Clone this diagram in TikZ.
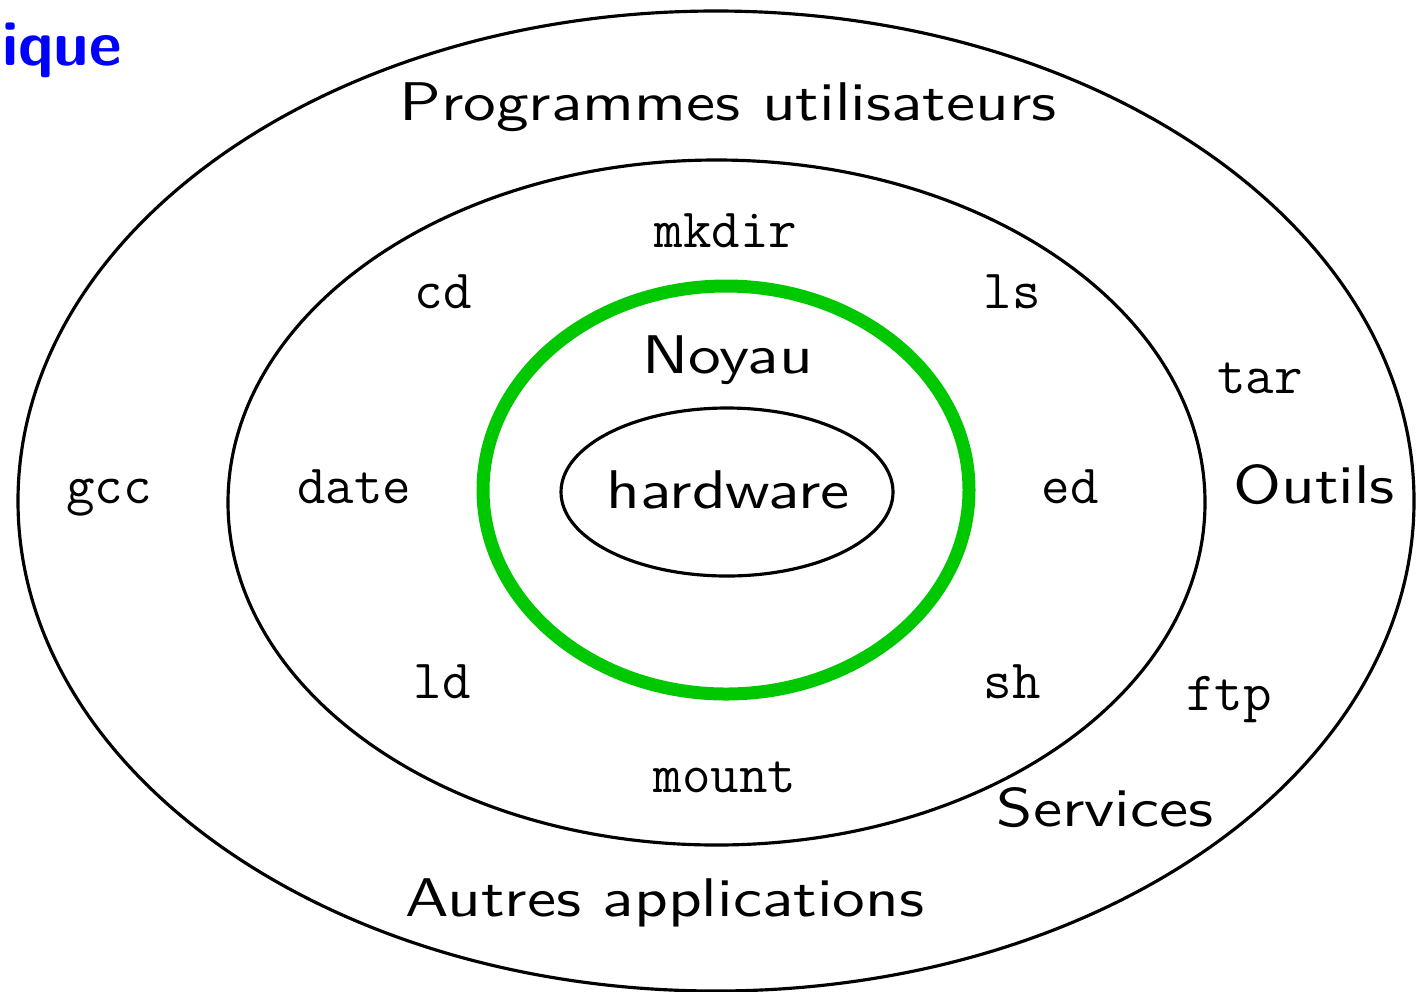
\documentclass[tikz,border=0pt]{standalone}
\usepackage{fontspec}
\newfontfamily\labfont[Extension=.otf,FakeStretch=1.2]{lmsans10-regular}
\definecolor{noyaugreen}{RGB}{0,200,0}
\begin{document}
\begin{tikzpicture}[x=0.02cm,y=-0.02cm,
  ring/.style={draw=black,line width=1.8pt},
  lab/.style={font=\labfont\fontsize{31}{37}\selectfont,anchor=base,inner sep=0pt},
  cmd/.style={font=\ttfamily\fontsize{31.5}{38}\selectfont,anchor=base,inner sep=0pt}]
\useasboundingbox (0,0) rectangle (1425,991);
\draw[ring] (716,501) ellipse [x radius=698,y radius=490];
\draw[ring] (716.5,502.5) ellipse [x radius=488.5,y radius=342.5];
\draw[draw=noyaugreen,line width=7.4pt] (726,490) ellipse [x radius=243,y radius=204];
\draw[ring] (727,492) ellipse [x radius=166,y radius=84];
\node[font=\sffamily\bfseries\fontsize{36}{42}\selectfont,text=blue,anchor=base east,inner sep=0pt] (titre) at (122,65) {ique};
\node[lab] (prog) at (728,120) {Programmes utilisateurs};
\node[cmd] (mkdir) at (726,247) {mkdir};
\node[cmd] (cd) at (443,308) {cd};
\node[cmd] (ls) at (1012,308) {ls};
\node[cmd] (tar) at (1260,393) {tar};
\node[lab] (noyau) at (727.5,373) {Noyau};
\node[lab] (hard) at (728,508) {hardware};
\node[cmd] (gcc) at (109,503) {gcc};
\node[cmd] (date) at (354,503) {date};
\node[cmd] (ed) at (1070,503) {ed};
\node[lab] (outils) at (1314,503) {Outils};
\node[cmd] (ld) at (442,698) {ld};
\node[cmd] (sh) at (1012,698) {sh};
\node[cmd] (ftp) at (1229,710) {ftp};
\node[cmd] (mount) at (725,792) {mount};
\node[lab] (serv) at (1105,826) {Services};
\node[lab] (autres) at (665,916) {Autres applications};
\end{tikzpicture}
\end{document}
